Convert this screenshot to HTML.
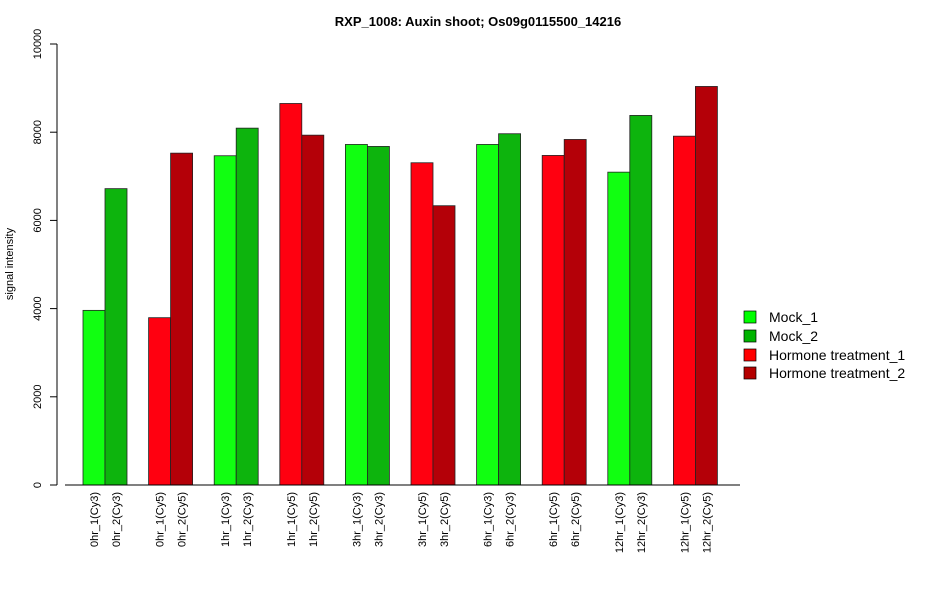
<!DOCTYPE html>
<html><head><meta charset="utf-8"><style>body{margin:0;background:#fff}svg{display:block;font-family:"Liberation Sans",Arial,sans-serif}</style></head>
<body>
<svg id="chart" width="950" height="600" viewBox="0 0 950 600">
<text x="478" y="26" text-anchor="middle" font-size="13" font-weight="bold">RXP_1008: Auxin shoot; Os09g0115500_14216</text>
<text transform="translate(13,264) rotate(-90)" text-anchor="middle" font-size="11">signal intensity</text>
<g id="bars"></g><g id="yaxis"></g><g id="xlabels"></g>
<g font-size="14">
<rect x="744" y="311" width="12" height="12" fill="#00ff00" stroke="#000" stroke-width="0.7"/><text x="769" y="322">Mock_1</text>
<rect x="744" y="330" width="12" height="12" fill="#00b400" stroke="#000" stroke-width="0.7"/><text x="769" y="341">Mock_2</text>
<rect x="744" y="349" width="12" height="12" fill="#ff0000" stroke="#000" stroke-width="0.7"/><text x="769" y="360">Hormone treatment_1</text>
<rect x="744" y="367" width="12" height="12" fill="#b40000" stroke="#000" stroke-width="0.7"/><text x="769" y="378">Hormone treatment_2</text>
</g>
</svg>
<script>
const labels=["0hr_1(Cy3)","0hr_2(Cy3)","0hr_1(Cy5)","0hr_2(Cy5)","1hr_1(Cy3)","1hr_2(Cy3)","1hr_1(Cy5)","1hr_2(Cy5)","3hr_1(Cy3)","3hr_2(Cy3)","3hr_1(Cy5)","3hr_2(Cy5)","6hr_1(Cy3)","6hr_2(Cy3)","6hr_1(Cy5)","6hr_2(Cy5)","12hr_1(Cy3)","12hr_2(Cy3)","12hr_1(Cy5)","12hr_2(Cy5)"];
const values=[3960,6720,3794,7525,7466,8092,8651,7933,7722,7677,7307,6333,7722,7965,7473,7835,7094,8380,7910,9037];
const yTicks=[0,2000,4000,6000,8000,10000];
const palette=["#11ff11","#0db40d","#ff0010","#b40008"];
const NS="http://www.w3.org/2000/svg";
const y0=485,pxPer=441/10000;
const yS=v=>y0-v*pxPer;
const xS=i=>83+Math.floor(i/2)*65.6+(i%2)*22;
const bw=22;
function mk(t,a,p){const e=document.createElementNS(NS,t);for(const k in a)e.setAttribute(k,a[k]);p.appendChild(e);return e;}
const bars=document.getElementById('bars');
values.forEach((v,i)=>{
 const grp=Math.floor(i/2),cy5=labels[i].includes("Cy5");
 const col=palette[(cy5?2:0)+(i%2)];
 const r=mk('rect',{x:xS(i),y:yS(v),width:bw,height:y0-yS(v),fill:col,stroke:'#222','stroke-width':0.8},bars);
 
 
});
const ya=document.getElementById('yaxis');
const ax=mk('line',{x1:57,x2:57,y1:yS(10000),y2:yS(0),stroke:'#000'},ya);


const xa=mk('line',{x1:65,x2:740,y1:y0,y2:y0,stroke:'#000'},ya);


yTicks.forEach(t=>{
 mk('line',{x1:50,x2:57,y1:yS(t),y2:yS(t),stroke:'#000'},ya);
 const tx=mk('text',{transform:`translate(41,${yS(t)}) rotate(-90)`,'text-anchor':'middle','font-size':11},ya);
 tx.textContent=t;
 
 
});
const xl=document.getElementById('xlabels');
labels.forEach((l,i)=>{
 const tx=mk('text',{transform:`translate(${xS(i)+bw/2+4},492) rotate(-90)`,'text-anchor':'end','font-size':11},xl);
 tx.textContent=l;
 
 
});
</script>
</body></html>
